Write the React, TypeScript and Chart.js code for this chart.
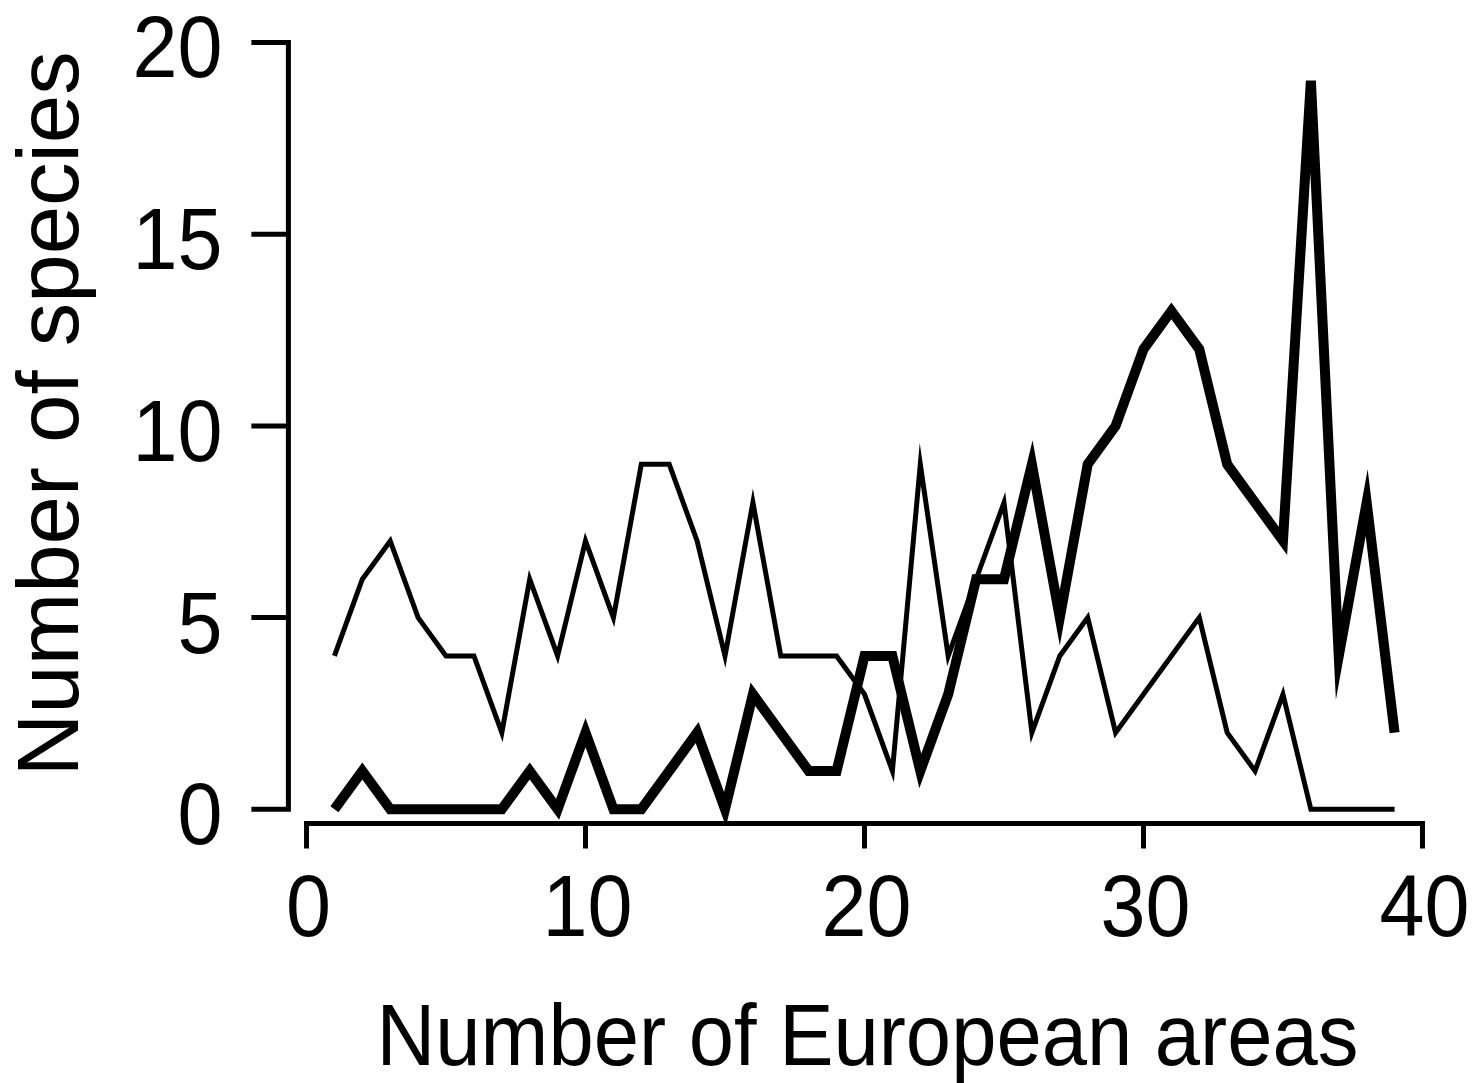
import React, { useEffect, useRef } from "react";
import { Chart, registerables } from "chart.js";

Chart.register(...registerables);

const areas: number[] = [1, 2, 3, 4, 5, 6, 7, 8, 9, 10, 11, 12, 13, 14, 15, 16, 17, 18, 19, 20, 21, 22, 23, 24, 25, 26, 27, 28, 29, 30, 31, 32, 33, 34, 35, 36, 37, 38, 39];
const thinSeries: number[] = [4, 6, 7, 5, 4, 4, 2, 6, 4, 7, 5, 9, 9, 7, 4, 8, 4, 4, 4, 3, 1, 9, 4, 6, 8, 2, 4, 5, 2, 3, 4, 5, 2, 1, 3, 0, 0, 0, 0];
const thickSeries: number[] = [0, 1, 0, 0, 0, 0, 0, 1, 0, 2, 0, 0, 1, 2, 0, 3, 2, 1, 1, 4, 4, 1, 3, 6, 6, 9, 5, 9, 10, 12, 13, 12, 9, 8, 7, 19, 4, 8, 2];
const xTicks: number[] = [0, 10, 20, 30, 40];
const yTicks: number[] = [0, 5, 10, 15, 20];
const xTitle = "Number of European areas";
const yTitle = "Number of species";

const W = 1477;
const H = 1083;
const FONT = "'Liberation Sans', Arial, Helvetica, sans-serif";

const axesPlugin = {
  id: "rAxes",
  afterDraw(chart: any) {
    const ctx = chart.ctx as CanvasRenderingContext2D;
    const xs = chart.scales.x;
    const ys = chart.scales.y;
    const area = chart.chartArea;
    ctx.save();
    ctx.strokeStyle = "#000";
    ctx.fillStyle = "#000";
    ctx.lineWidth = 5;
    ctx.lineJoin = "miter";
    ctx.lineCap = "butt";

    // Y axis
    const yl = area.left;
    const yTickLen = 37;
    const yFirst = ys.getPixelForValue(yTicks[0]);
    const yLast = ys.getPixelForValue(yTicks[yTicks.length - 1]);
    ctx.beginPath();
    ctx.moveTo(yl - yTickLen, yFirst);
    ctx.lineTo(yl, yFirst);
    ctx.lineTo(yl, yLast);
    ctx.lineTo(yl - yTickLen, yLast);
    ctx.stroke();
    for (let i = 1; i < yTicks.length - 1; i++) {
      const py = ys.getPixelForValue(yTicks[i]);
      ctx.beginPath();
      ctx.moveTo(yl, py);
      ctx.lineTo(yl - yTickLen, py);
      ctx.stroke();
    }

    // X axis
    const xb = area.bottom;
    const xTickLen = 25;
    const xFirst = xs.getPixelForValue(xTicks[0]);
    const xLast = xs.getPixelForValue(xTicks[xTicks.length - 1]);
    ctx.beginPath();
    ctx.moveTo(xFirst, xb + xTickLen);
    ctx.lineTo(xFirst, xb);
    ctx.lineTo(xLast, xb);
    ctx.lineTo(xLast, xb + xTickLen);
    ctx.stroke();
    for (let i = 1; i < xTicks.length - 1; i++) {
      const px = xs.getPixelForValue(xTicks[i]);
      ctx.beginPath();
      ctx.moveTo(px, xb);
      ctx.lineTo(px, xb + xTickLen);
      ctx.stroke();
    }

    const sx = 0.93;
    // Y tick labels
    ctx.font = `87px ${FONT}`;
    ctx.textBaseline = "alphabetic";
    ctx.textAlign = "right";
    for (const t of yTicks) {
      const py = ys.getPixelForValue(t);
      ctx.save();
      ctx.translate(yl - 66, py + 35);
      ctx.scale(sx, 1);
      ctx.fillText(String(t), 0, 0);
      ctx.restore();
    }
    // X tick labels
    ctx.textAlign = "center";
    for (const t of xTicks) {
      const px = xs.getPixelForValue(t);
      ctx.save();
      ctx.translate(px + 2, xb + 112);
      ctx.scale(sx, 1);
      ctx.fillText(String(t), 0, 0);
      ctx.restore();
    }
    // X title
    ctx.font = `88px ${FONT}`;
    ctx.save();
    ctx.translate((xFirst + xLast) / 2 + 3, xb + 241);
    ctx.scale(0.925, 1);
    ctx.fillText(xTitle, 0, 0);
    ctx.restore();
    // Y title
    ctx.font = `87px ${FONT}`;
    ctx.save();
    ctx.translate(yl - 210, (yFirst + yLast) / 2 - 12);
    ctx.rotate(-Math.PI / 2);
    ctx.textAlign = "center";
    ctx.fillText(yTitle, 0, 0);
    ctx.restore();

    ctx.restore();
  },
};

export default function App() {
  const ref = useRef<HTMLCanvasElement | null>(null);
  useEffect(() => {
    document.body.style.margin = "0";
    const canvas = ref.current;
    if (!canvas) return;
    const chart = new Chart(canvas, {
      type: "line",
      data: {
        datasets: [
          {
            label: "thin",
            data: areas.map((a, i) => ({ x: a, y: thinSeries[i] })),
            borderColor: "#000",
            borderWidth: 5,
            pointRadius: 0,
            fill: false,
            tension: 0,
            borderJoinStyle: "miter",
            borderCapStyle: "butt",
            clip: false,
          },
          {
            label: "thick",
            data: areas.map((a, i) => ({ x: a, y: thickSeries[i] })),
            borderColor: "#000",
            borderWidth: 10,
            pointRadius: 0,
            fill: false,
            tension: 0,
            borderJoinStyle: "miter",
            borderCapStyle: "butt",
            clip: false,
          },
        ],
      },
      options: {
        responsive: false,
        animation: false,
        devicePixelRatio: 1,
        layout: { padding: { left: 288.4, right: 36.4, top: 28.3, bottom: 259.5 } },
        plugins: { legend: { display: false }, tooltip: { enabled: false } },
        scales: {
          x: { type: "linear", min: -0.65, max: 40.65, display: false },
          y: { type: "linear", min: -0.37, max: 20.37, display: false },
        },
      },
      plugins: [axesPlugin],
    } as any);
    return () => chart.destroy();
  }, []);
  return <canvas ref={ref} width={W} height={H} style={{ display: "block" }} />;
}
